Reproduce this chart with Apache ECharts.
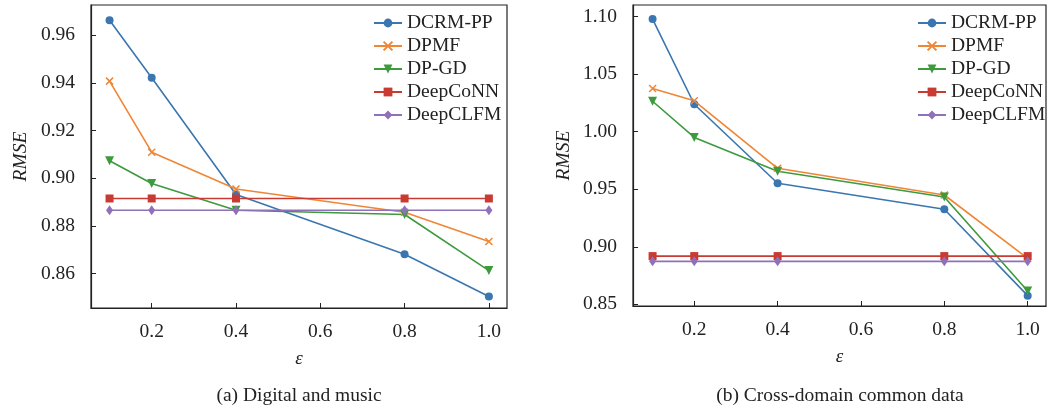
<!DOCTYPE html>
<html>
<head>
<meta charset="utf-8">
<script src="https://cdn.jsdelivr.net/npm/echarts@6/dist/echarts.min.js"></script>
<style>
  html, body { margin: 0; padding: 0; background: #fff; }
  #chart { width: 1051px; height: 410px; }
</style>
</head>
<body>
<div id="chart"></div>
<script>
// ---- data ----
const epsilon = [0.1, 0.2, 0.4, 0.8, 1.0];
const seriesNames = ['DCRM-PP', 'DPMF', 'DP-GD', 'DeepCoNN', 'DeepCLFM'];

// (a) Digital and music
const dcrmA     = [0.9662, 0.9421, 0.8932, 0.8681, 0.8504];
const dpmfA     = [0.9407, 0.9109, 0.8955, 0.8857, 0.8735];
const dpgdA     = [0.9073, 0.8978, 0.8866, 0.8848, 0.8613];
const deepconnA = [0.8915, 0.8915, 0.8915, 0.8915, 0.8915];
const deepclfmA = [0.8866, 0.8866, 0.8866, 0.8866, 0.8866];

// (b) Cross-domain common data
const dcrmB     = [1.0980, 1.0239, 0.9552, 0.9326, 0.8575];
const dpmfB     = [1.0376, 1.0269, 0.9682, 0.9450, 0.8900];
const dpgdB     = [1.0265, 0.9951, 0.9656, 0.9433, 0.8616];
const deepconnB = [0.8919, 0.8919, 0.8919, 0.8919, 0.8919];
const deepclfmB = [0.8873, 0.8873, 0.8873, 0.8873, 0.8873];

const xTicks  = [0.2, 0.4, 0.6, 0.8, 1.0];
const yTicksA = [0.86, 0.88, 0.90, 0.92, 0.94, 0.96];
const yTicksB = [0.85, 0.90, 0.95, 1.00, 1.05, 1.10];
const captions = ['(a) Digital and music', '(b) Cross-domain common data'];
const xName = 'ε';
const yName = 'RMSE';

// ---- styles ----
const FONT = "'Liberation Serif', 'Times New Roman', serif";
const colors = ['#3a76af', '#ef8636', '#3d9a3d', '#c93a33', '#9070b8'];
const symbols = ['circle', 'path://M0,0L10,10M10,0L0,10', 'triangle', 'rect', 'diamond'];
const symbolSizes = [8, 7, 9, 8, [7, 10]];
const symbolRot = [0, 0, 180, 0, 0];

const dataA = [dcrmA, dpmfA, dpgdA, deepconnA, deepclfmA];
const dataB = [dcrmB, dpmfB, dpgdB, deepconnB, deepclfmB];

function pairs(vals) { return epsilon.map((x, i) => [x, vals[i]]); }

function makeSeries(dataSet, idx) {
  return dataSet.map((vals, i) => ({
    name: seriesNames[i],
    type: 'line',
    xAxisIndex: idx,
    yAxisIndex: idx,
    data: pairs(vals),
    symbol: symbols[i],
    symbolSize: symbolSizes[i],
    symbolRotate: symbolRot[i],
    showAllSymbol: true,
    animation: false,
    lineStyle: { color: colors[i], width: 1.6 },
    itemStyle: i === 1
      ? { color: colors[i], borderColor: colors[i], borderWidth: 1.5 }
      : { color: colors[i], borderWidth: 0 },
    emphasis: { disabled: true }
  }));
}

function xAxis(idx, min, max) {
  return {
    type: 'value', gridIndex: idx, min: min, max: max,
    name: xName, nameLocation: 'middle', nameGap: 41,
    nameTextStyle: { fontFamily: FONT, fontSize: 19, fontStyle: 'italic', color: '#222' },
    axisLine: { show: true, lineStyle: { color: '#222', width: 1.2 } },
    axisTick: { show: true, inside: true, length: 5, customValues: xTicks, lineStyle: { color: '#222' } },
    axisLabel: { customValues: xTicks, margin: 14, fontFamily: FONT, fontSize: 19.5, color: '#222',
                 formatter: v => v.toFixed(1) },
    splitLine: { show: false }
  };
}

function yAxis(idx, min, max, ticks, gap) {
  return {
    type: 'value', gridIndex: idx, min: min, max: max,
    name: yName, nameLocation: 'middle', nameGap: gap, nameRotate: 90,
    nameTextStyle: { fontFamily: FONT, fontSize: 19.5, fontStyle: 'italic', color: '#222' },
    axisLine: { show: true, lineStyle: { color: '#222', width: 1.2 } },
    axisTick: { show: true, inside: true, length: 5, customValues: ticks, lineStyle: { color: '#222' } },
    axisLabel: { customValues: ticks, margin: 16, fontFamily: FONT, fontSize: 19.5, color: '#222',
                 formatter: v => v.toFixed(2) },
    splitLine: { show: false }
  };
}

function legend(left) {
  return {
    orient: 'vertical', left: left, top: 8,
    itemWidth: 28, itemHeight: 11, itemGap: 3,
    data: seriesNames,
    textStyle: { fontFamily: FONT, fontSize: 19.5, color: '#222', lineHeight: 20 },
    selectedMode: false
  };
}

const chart = echarts.init(document.getElementById('chart'), null, { renderer: 'canvas' });
chart.setOption({
  backgroundColor: '#fff',
  animation: false,
  grid: [
    { left: 91, top: 5, width: 416, height: 303, show: true, borderColor: '#222', borderWidth: 1.2, backgroundColor: 'transparent' },
    { left: 633, top: 5, width: 413, height: 301, show: true, borderColor: '#222', borderWidth: 1.2, backgroundColor: 'transparent' }
  ],
  xAxis: [xAxis(0, 0.056, 1.043), xAxis(1, 0.053, 1.044)],
  yAxis: [yAxis(0, 0.8456, 0.9726, yTicksA, 60), yAxis(1, 0.8485, 1.1102, yTicksB, 59)],
  legend: [legend(368), legend(912)],
  series: makeSeries(dataA, 0).concat(makeSeries(dataB, 1)),
  graphic: [
    { type: 'text', x: 299, y: 396, style: { text: captions[0], font: '19.5px ' + FONT, fill: '#222', textAlign: 'center', textVerticalAlign: 'middle' } },
    { type: 'text', x: 840, y: 396, style: { text: captions[1], font: '19.5px ' + FONT, fill: '#222', textAlign: 'center', textVerticalAlign: 'middle' } }
  ]
});
</script>
</body>
</html>
